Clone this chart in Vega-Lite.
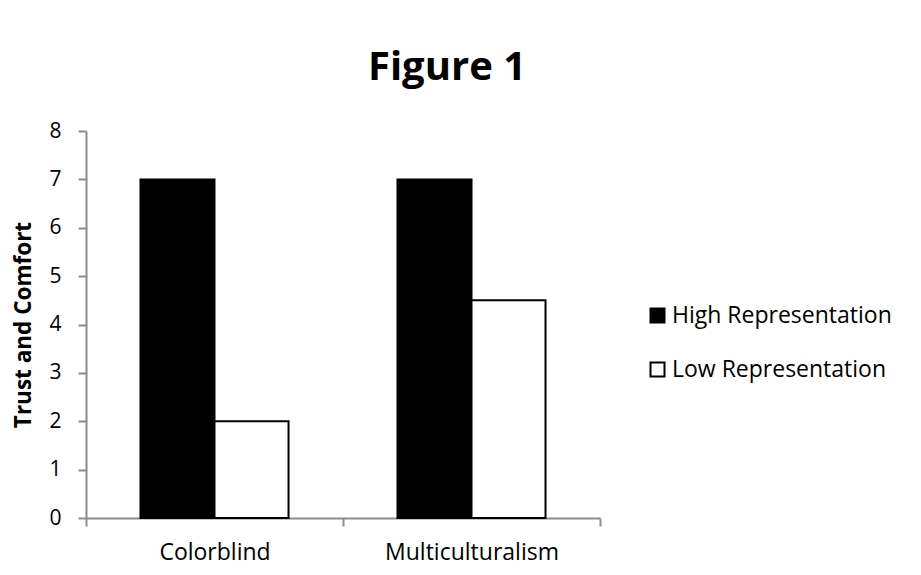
{
  "$schema": "https://vega.github.io/schema/vega-lite/v6.json",
  "autosize": "none",
  "width": 514,
  "height": 387,
  "padding": {"left": 86, "top": 131, "right": 321, "bottom": 57},
  "background": "white",
  "config": {"font": "Open Sans", "view": {"stroke": null}},
  "title": {
    "text": "Figure 1",
    "fontSize": 40,
    "fontWeight": "bold",
    "font": "Open Sans",
    "color": "black",
    "anchor": "middle",
    "frame": "group",
    "dx": 104,
    "offset": 32
  },
  "data": {
    "values": [
      {"strategy": "Colorblind", "group": "High Representation", "value": 7},
      {"strategy": "Colorblind", "group": "Low Representation", "value": 2},
      {"strategy": "Multiculturalism", "group": "High Representation", "value": 7},
      {"strategy": "Multiculturalism", "group": "Low Representation", "value": 4.5}
    ]
  },
  "mark": {"type": "bar", "stroke": "black", "strokeWidth": 2},
  "encoding": {
    "x": {
      "field": "strategy",
      "type": "nominal",
      "sort": ["Colorblind", "Multiculturalism"],
      "scale": {"paddingInner": 0, "paddingOuter": 0},
      "axis": {
        "title": null,
        "labelAngle": 0,
        "labelFontSize": 23,
        "labelColor": "black",
        "labelPadding": 15,
        "domainColor": "#8c8c8c",
        "domainWidth": 2,
        "tickColor": "#8c8c8c",
        "tickWidth": 2,
        "tickSize": 8,
        "tickBand": "extent"
      }
    },
    "xOffset": {
      "field": "group",
      "type": "nominal",
      "sort": ["High Representation", "Low Representation"],
      "scale": {"paddingInner": 0, "paddingOuter": 0.736}
    },
    "y": {
      "field": "value",
      "type": "quantitative",
      "scale": {"domain": [0, 8]},
      "axis": {
        "title": "Trust and Comfort",
        "titleFontSize": 22.5,
        "titleFontWeight": "bold",
        "titleColor": "black",
        "titlePadding": 13,
        "values": [0, 1, 2, 3, 4, 5, 6, 7, 8],
        "labelFontSize": 21,
        "labelColor": "black",
        "labelPadding": 17,
        "labelFontWeight": 500,
        "labelDy": 2,
        "grid": false,
        "domainColor": "#8c8c8c",
        "domainWidth": 2,
        "tickColor": "#8c8c8c",
        "tickWidth": 2,
        "tickSize": 8
      }
    },
    "color": {
      "field": "group",
      "type": "nominal",
      "scale": {
        "domain": ["High Representation", "Low Representation"],
        "range": ["black", "white"]
      },
      "legend": {
        "title": null,
        "orient": "none",
        "legendX": 560,
        "legendY": 173,
        "symbolType": "square",
        "symbolSize": 196,
        "symbolStrokeColor": "black",
        "symbolStrokeWidth": 2,
        "labelFontSize": 23,
        "labelColor": "black",
        "labelOffset": 3,
        "labelLimit": 400,
        "rowPadding": 30
      }
    }
  }
}
